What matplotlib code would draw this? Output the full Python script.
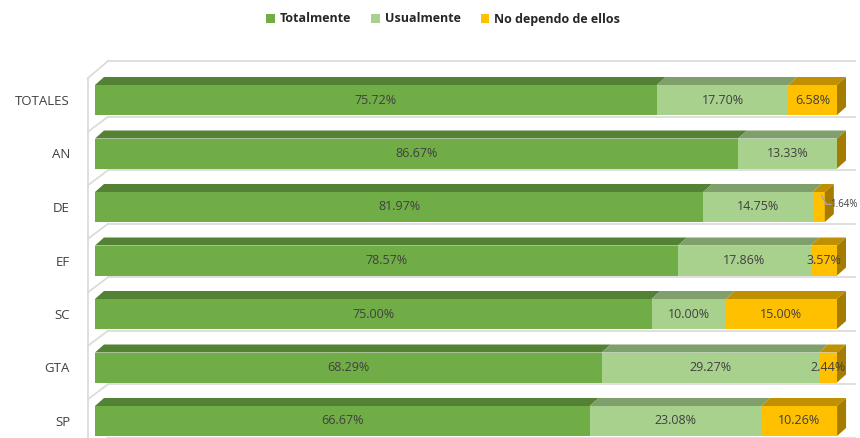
import matplotlib
matplotlib.use("Agg")
import matplotlib.pyplot as plt
from matplotlib.patches import Polygon

categories = ["TOTALES", "AN", "DE", "EF", "SC", "GTA", "SP"]
totalmente = [75.72, 86.67, 81.97, 78.57, 75.00, 68.29, 66.67]
usualmente = [17.70, 13.33, 14.75, 17.86, 10.00, 29.27, 23.08]
no_depende = [6.58, 0.00, 1.64, 3.57, 15.00, 2.44, 10.26]
series_names = ["Totalmente", "Usualmente", "No dependo de ellos"]

front_colors = ["#70AD47", "#A9D18E", "#FFC000"]
top_colors = ["#548235", "#7F9F6B", "#BF9000"]
side_color = "#A67C00"
text_color = "#404040"
grid_color = "#D9D9D9"

plt.rcParams['font.family'] = ['Open Sans', 'DejaVu Sans']

W, H = 860, 438
fig = plt.figure(figsize=(W / 100, H / 100), dpi=100)

# background wall (pixel coordinates)
bg = fig.add_axes([0, 0, 1, 1])
bg.set_xlim(0, W)
bg.set_ylim(H, 0)
bg.axis("off")
row_px = 53.5
y0_px = 100
bg.plot([88, 88], [78, H], color=grid_color, lw=1.2)
bg.plot([88, 108], [78, 61], color=grid_color, lw=1.2)
bg.plot([108, 855], [61, 61], color=grid_color, lw=1.2)
for i in range(len(categories)):
    yb = y0_px + row_px * (i + 0.5) + 5
    bg.plot([88, 108], [yb, yb - 15], color=grid_color, lw=1.2)
    bg.plot([108, 855], [yb - 15, yb - 15], color=grid_color, lw=1.2)

# main axes: x 0..100 maps to px 95..837
x0_px, x1_px = 95, 837
ax = fig.add_axes([x0_px / W, 0, (x1_px - x0_px) / W, 1])
ax.patch.set_alpha(0)
ax.set_xlim(0, 100)
ax.set_ylim((H - y0_px) / row_px, -y0_px / row_px)
for s in ax.spines.values():
    s.set_visible(False)
ax.set_xticks([])
ax.set_yticks(range(len(categories)))
ax.set_yticklabels(categories, fontsize=9.5, color=text_color)
ax.tick_params(axis="y", length=0, pad=18)

px_per_unit = (x1_px - x0_px) / 100
bh = 30 / row_px
dx = 9 / px_per_unit
dy = 8 / row_px

ypos = list(range(len(categories)))
series = [totalmente, usualmente, no_depende]
lefts = [0.0] * len(categories)
handles = []
for si, vals in enumerate(series):
    bars = ax.barh(ypos, vals, left=lefts, height=bh, color=front_colors[si],
                   edgecolor="none", label=series_names[si], zorder=2)
    handles.append(bars)
    for i, (v, l) in enumerate(zip(vals, lefts)):
        top = i - bh / 2
        if v > 0:
            ax.add_patch(Polygon([(l, top), (l + v, top), (l + v + dx, top - dy),
                                  (l + dx, top - dy)], closed=True,
                                 facecolor=top_colors[si], edgecolor="none", zorder=2,
                                 clip_on=False))
    lefts = [a + b for a, b in zip(lefts, vals)]

# side faces at the end of each stack
for i, end in enumerate(lefts):
    top = i - bh / 2
    bot = i + bh / 2
    ax.add_patch(Polygon([(end, top), (end + dx, top - dy), (end + dx, bot - dy), (end, bot)],
                         closed=True, facecolor=side_color, edgecolor="none", zorder=2,
                         clip_on=False))

# data labels
right_edge = (W - 2 - x0_px) / px_per_unit
for i in range(len(categories)):
    l = 0.0
    for si, vals in enumerate(series):
        v = vals[i]
        if v > 0:
            if categories[i] == "DE" and si == 2:
                xe = l + v
                ax.plot([l + v / 2 + 0.4, xe + 0.2, xe + 0.8], [i - 0.22, i - 0.05, i - 0.05],
                        color="#A6A6A6", lw=1, zorder=3, clip_on=False)
                ax.text(right_edge, i - 0.05, f"{v:.2f}%", ha="right", va="center",
                        fontsize=7, color=text_color, clip_on=False)
            else:
                ax.text(l + v / 2, i, f"{v:.2f}%", ha="center", va="center",
                        fontsize=9, color=text_color, zorder=4)
        l += v

leg = fig.legend(handles=handles, labels=series_names, loc="center",
                 bbox_to_anchor=(443 / W, 1 - 19 / H), ncol=3, frameon=False,
                 handlelength=0.7, handleheight=0.7, handletextpad=0.4,
                 columnspacing=1.6, prop={"weight": "bold", "size": 9})
for t in leg.get_texts():
    t.set_color("#262626")

fig.savefig("out.png", dpi=100)
